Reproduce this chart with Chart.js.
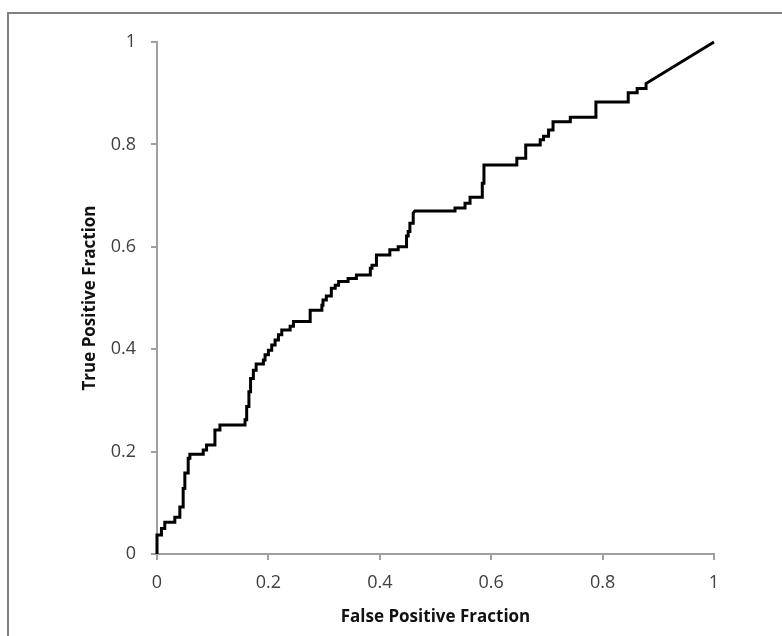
<!DOCTYPE html>
<html>
<head>
<meta charset="utf-8">
<script src="https://cdn.jsdelivr.net/npm/chart.js@4"></script>
<style>
html, body { margin: 0; padding: 0; background: #fff; overflow: hidden; }
#frame { position: absolute; left: 7px; top: 12px; width: 800px; height: 700px; border: 2px solid #808080; }
#wrap { position: absolute; left: 0; top: 0; width: 782px; height: 636px; }
</style>
</head>
<body>
<div id="frame"></div>
<div id="wrap"><canvas id="chart" width="782" height="636"></canvas></div>
<script>
// ROC curve corners
const fpr = [0, 0, 0.008, 0.008, 0.014, 0.014, 0.032, 0.032, 0.041, 0.041, 0.047, 0.047, 0.05, 0.05,
  0.056, 0.056, 0.059, 0.059, 0.083, 0.083, 0.089, 0.089, 0.104, 0.104, 0.113, 0.113, 0.158, 0.158,
  0.161, 0.161, 0.165, 0.165, 0.168, 0.168, 0.173, 0.173, 0.178, 0.178, 0.191, 0.191, 0.194, 0.194,
  0.2, 0.2, 0.206, 0.206, 0.212, 0.212, 0.218, 0.218, 0.224, 0.224, 0.239, 0.239, 0.245, 0.245,
  0.275, 0.275, 0.296, 0.296, 0.298, 0.298, 0.304, 0.304, 0.313, 0.313, 0.32, 0.32, 0.326, 0.326,
  0.343, 0.343, 0.358, 0.358, 0.383, 0.383, 0.386, 0.386, 0.394, 0.394, 0.418, 0.418, 0.433, 0.433,
  0.448, 0.448, 0.451, 0.451, 0.454, 0.454, 0.46, 0.46, 0.463, 0.535, 0.535, 0.553, 0.553, 0.562, 0.562,
  0.584, 0.584, 0.587, 0.587, 0.646, 0.646, 0.662, 0.662, 0.688, 0.688, 0.694, 0.694, 0.703, 0.703,
  0.711, 0.711, 0.742, 0.742, 0.788, 0.788, 0.846, 0.846, 0.862, 0.862, 0.878, 0.878, 1];
const tpr = [0, 0.037, 0.037, 0.05, 0.05, 0.062, 0.062, 0.072, 0.072, 0.092, 0.092, 0.128, 0.128, 0.158,
  0.158, 0.187, 0.187, 0.195, 0.195, 0.203, 0.203, 0.213, 0.213, 0.242, 0.242, 0.252, 0.252, 0.262,
  0.262, 0.288, 0.288, 0.317, 0.317, 0.343, 0.343, 0.359, 0.359, 0.371, 0.371, 0.379, 0.379, 0.389,
  0.389, 0.398, 0.398, 0.408, 0.408, 0.418, 0.418, 0.428, 0.428, 0.4375, 0.4375, 0.445, 0.445, 0.454,
  0.454, 0.476, 0.476, 0.486, 0.486, 0.496, 0.496, 0.504, 0.504, 0.519, 0.519, 0.525, 0.525, 0.532,
  0.532, 0.538, 0.538, 0.545, 0.545, 0.558, 0.558, 0.564, 0.564, 0.584, 0.584, 0.594, 0.594, 0.6,
  0.6, 0.621, 0.621, 0.63, 0.63, 0.646, 0.646, 0.666, 0.67, 0.67, 0.676, 0.676, 0.685, 0.685, 0.697,
  0.697, 0.724, 0.724, 0.76, 0.76, 0.773, 0.773, 0.799, 0.799, 0.809, 0.809, 0.816, 0.816, 0.828,
  0.828, 0.844, 0.844, 0.853, 0.853, 0.883, 0.883, 0.901, 0.901, 0.909, 0.909, 0.919, 1];

const xTicks = [0, 0.2, 0.4, 0.6, 0.8, 1];
const yTicks = [0, 0.2, 0.4, 0.6, 0.8, 1];
const xTitle = "False Positive Fraction";
const yTitle = "True Positive Fraction";

const axisColor = "#a0a0a0";
const tickFont = { family: "Open Sans", size: 18 };
const titleFont = { family: "Open Sans", size: 17, weight: "bold" };

function fmtTick(v){
  return String(+Number(v).toFixed(1));
}

const points = fpr.map((x, i) => ({ x: x, y: tpr[i] }));

new Chart(document.getElementById("chart").getContext("2d"), {
  type: "line",
  data: {
    datasets: [{
      data: points,
      borderColor: "#000",
      borderWidth: 3,
      pointRadius: 0,
      tension: 0,
      fill: false,
      clip: 4,
      borderJoinStyle: "miter"
    }]
  },
  options: {
    responsive: false,
    animation: false,
    devicePixelRatio: 1,
    layout: { padding: { left: 0, top: 42, right: 68, bottom: 0 } },
    plugins: { legend: { display: false }, tooltip: { enabled: false } },
    scales: {
      x: {
        type: "linear",
        min: 0, max: 1,
        afterBuildTicks: (s) => { s.ticks = xTicks.map(v => ({ value: v })); },
        afterFit: (s) => { s.height = 82; },
        border: { color: axisColor, width: 2 },
        grid: { drawOnChartArea: false, drawTicks: true, tickLength: 6, color: axisColor, lineWidth: 2 },
        ticks: { color: "#404040", font: tickFont, padding: 12, maxRotation: 0, callback: fmtTick },
        title: { display: true, text: xTitle, color: "#111", font: titleFont, padding: { top: 0, bottom: 9 } }
      },
      y: {
        type: "linear",
        min: 0, max: 1,
        afterBuildTicks: (s) => { s.ticks = yTicks.map(v => ({ value: v })); },
        afterFit: (s) => { s.width = 157; },
        border: { color: axisColor, width: 2 },
        grid: { drawOnChartArea: false, drawTicks: true, tickLength: 6, color: axisColor, lineWidth: 2 },
        ticks: { color: "#404040", font: tickFont, padding: 15, callback: fmtTick },
        title: { display: true, text: yTitle, color: "#111", font: titleFont, padding: { top: 80, bottom: 0 } }
      }
    }
  }
});
</script>
</body>
</html>
